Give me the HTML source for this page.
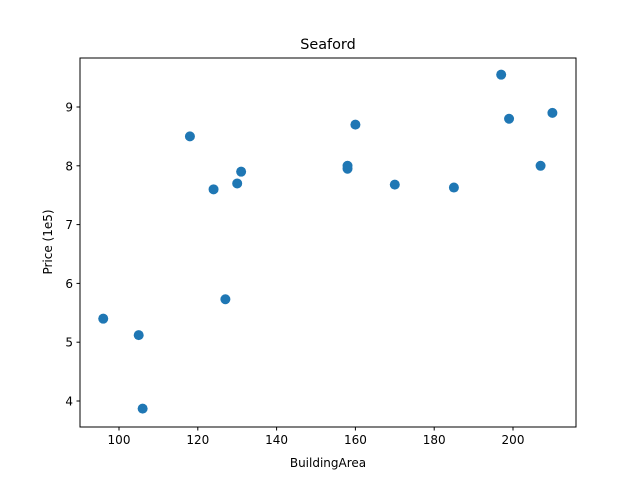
<!DOCTYPE html>
<html><head><meta charset="utf-8"><style>
body{margin:0;background:#fff;}
svg{display:block;font-family:"DejaVu Sans","Liberation Sans",sans-serif;}
</style></head><body>
<svg id="chart" width="640" height="480"></svg>
<script>
const areas=[96,105,106,118,124,127,130,131,158,158,160,170,185,197,199,207,210];
const prices=[5.4,5.12,3.87,8.5,7.6,5.73,7.7,7.9,8.0,7.95,8.7,7.68,7.63,9.55,8.8,8.0,8.9];
const xTicks=[100,120,140,160,180,200];
const yTicks=[4,5,6,7,8,9];
const NS="http://www.w3.org/2000/svg";
const svg=document.getElementById('chart');
const L=80,R=576,T=58,B=427;
function xs(v){return 119+(v-100)*3.94;}
function ys(v){return 401-(v-4)*58.8;}
function mk(tag,attrs,parent){const e=document.createElementNS(NS,tag);for(const k in attrs)e.setAttribute(k,attrs[k]);(parent||svg).appendChild(e);return e;}
const title=mk('text',{x:(L+R)/2,y:49,'text-anchor':'middle','font-size':14.4,fill:'#000'});
title.textContent='Seaford';


const pts=mk('g',{});


areas.forEach((a,i)=>{
  const c=mk('circle',{cx:xs(a),cy:ys(prices[i]),r:5,fill:'#1f77b4'},pts);
  
  
});
const frame=mk('rect',{x:L,y:T,width:R-L,height:B-T,fill:'none',stroke:'#000','stroke-width':1});


const xa=mk('g',{});


xTicks.forEach(t=>{
  const x=xs(t);
  mk('line',{x1:x,x2:x,y1:B,y2:B+3.5,stroke:'#000'},xa);
  const tx=mk('text',{x:x,y:B+17,'text-anchor':'middle','font-size':12,fill:'#000'},xa);
  tx.textContent=t;
  
  
});
const ya=mk('g',{});


yTicks.forEach(t=>{
  const y=ys(t);
  mk('line',{x1:L-3.5,x2:L,y1:y,y2:y,stroke:'#000'},ya);
  const tx=mk('text',{x:L-7,y:y+4.5,'text-anchor':'end','font-size':12,fill:'#000'},ya);
  tx.textContent=t;
  
  
});
const xl=mk('text',{x:(L+R)/2,y:467,'text-anchor':'middle','font-size':12,fill:'#000'});
xl.textContent='BuildingArea';


const yl=mk('text',{x:0,y:0,'text-anchor':'middle','font-size':12,fill:'#000',transform:'translate(52,242) rotate(-90)'});
yl.textContent='Price (1e5)';


</script>
</body></html>
